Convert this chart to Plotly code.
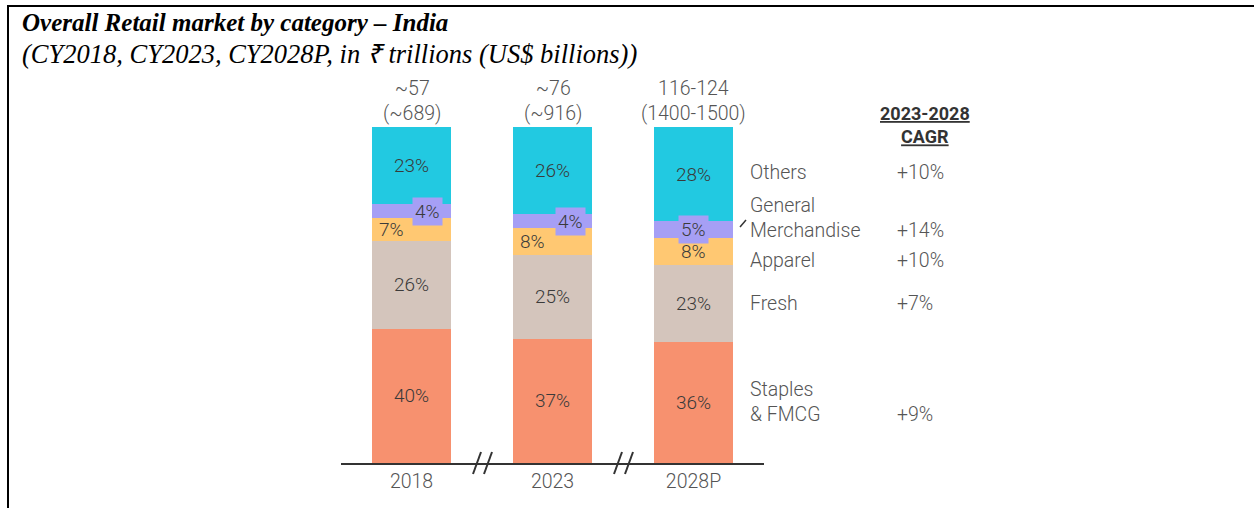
import plotly.graph_objects as go

# ---------------- data ----------------
years = ["2018", "2023", "2028P"]
totals_inr = ["~57", "~76", "116-124"]
totals_usd = ["(~689)", "(~916)", "(1400-1500)"]

staples = [40, 37, 36]
fresh = [26, 25, 23]
apparel = [7, 8, 8]
general_merch = [4, 4, 5]
others = [23, 26, 28]

category_names = ["Others", "General<br>Merchandise", "Apparel", "Fresh", "Staples<br>& FMCG"]
cagr = ["+10%", "+14%", "+10%", "+7%", "+9%"]

# ---------------- styles ----------------
C_STAPLES = "#F7916F"
C_FRESH = "#D4C5BC"
C_APPAREL = "#FFC872"
C_GM = "#A69FF5"
C_OTHERS = "#22C9E1"
TXT = "#3a3a3a"
LBL = "#555555"
FONT = "Roboto"
BAR_FS = 19
SIDE_FS = 19.5

W, H = 1254, 508
ML, MR, MT, MB = 341, 490, 127, 45
PW, PH = W - ML - MR, H - MT - MB


def px(x):
    return (x - ML) / PW


def py(y):
    return (H - MB - y) / PH


xs = list(range(len(years)))
fig = go.Figure()


def pct(vals):
    return [f"{v}%" for v in vals]


for name, vals, col, show in [
    ("Staples & FMCG", staples, C_STAPLES, True),
    ("Fresh", fresh, C_FRESH, True),
    ("Apparel", apparel, C_APPAREL, False),
    ("General Merchandise", general_merch, C_GM, False),
    ("Others", others, C_OTHERS, True),
]:
    fig.add_trace(go.Bar(
        x=xs, y=vals, name=name, marker=dict(color=col, line=dict(width=0)),
        width=0.56,
        text=pct(vals) if show else None,
        textposition="inside" if show else "none",
        insidetextanchor="middle",
        textangle=0,
        constraintext="none",
        textfont=dict(family=FONT, size=BAR_FS, color=TXT, weight=300),
        hoverinfo="skip",
    ))

annotations = []

# Apparel & GM labels (offset)
app_shift = [-20, -20, 0]
gm_shift = [16, 18, 0]
for i in xs:
    base_app = staples[i] + fresh[i]
    annotations.append(dict(
        x=i, y=base_app + apparel[i] / 2, xref="x", yref="y", text=f"{apparel[i]}%",
        showarrow=False, xshift=app_shift[i],
        font=dict(family=FONT, size=BAR_FS, color=TXT, weight=300)))
    base_gm = base_app + apparel[i]
    annotations.append(dict(
        x=i, y=base_gm + general_merch[i] / 2, xref="x", yref="y", text=f"{general_merch[i]}%",
        showarrow=False, xshift=gm_shift[i], bgcolor=C_GM, borderpad=2,
        font=dict(family=FONT, size=BAR_FS, color=TXT, weight=300)))
    total = base_gm + general_merch[i] + others[i]
    annotations.append(dict(
        x=i, y=total, xref="x", yref="y", yanchor="bottom",
        text=f"{totals_inr[i]}<br>{totals_usd[i]}",
        showarrow=False, yshift=0,
        font=dict(family=FONT, size=SIDE_FS, color=LBL, weight=300)))

# right side labels
label_y = [172, 218, 260, 303, 402]
cagr_y = [172, 230, 260, 303, 414]
for name, ly in zip(category_names, label_y):
    annotations.append(dict(
        x=px(748), y=py(ly), xref="paper", yref="paper", xanchor="left", yanchor="middle",
        align="left", text=name, showarrow=False,
        font=dict(family=FONT, size=SIDE_FS, color=LBL, weight=300)))
for val, cy in zip(cagr, cagr_y):
    annotations.append(dict(
        x=px(895), y=py(cy), xref="paper", yref="paper", xanchor="left", yanchor="middle",
        text=val, showarrow=False,
        font=dict(family=FONT, size=SIDE_FS, color=LBL, weight=300)))
annotations.append(dict(
    x=px(925), y=py(125), xref="paper", yref="paper", xanchor="center", yanchor="middle",
    text="<b><u>2023-2028</u></b><br><b><u>CAGR</u></b>", showarrow=False,
    font=dict(family=FONT, size=18, color="#333333")))

# title
annotations.append(dict(
    x=px(20), y=py(22), xref="paper", yref="paper", xanchor="left", yanchor="middle",
    text="Overall Retail market by category – India", showarrow=False,
    font=dict(family="Liberation Serif", size=25, color="black", weight="bold", style="italic")))
annotations.append(dict(
    x=px(20), y=py(54), xref="paper", yref="paper", xanchor="left", yanchor="middle",
    text="(CY2018, CY2023, CY2028P, in ₹ trillions (US$ billions))", showarrow=False,
    font=dict(family="Liberation Serif", size=26.5, color="black", style="italic")))

shapes = []
# axis break marks (x from data, y relative to the axis line at paper 0)
for bx in [0.5, 1.5]:
    for (x0, y0, x1, y1) in [(-9, -11, -1, 11), (2, -11, 10, 11)]:
        shapes.append(dict(type="line", xref="x", yref="paper", xsizemode="pixel", ysizemode="pixel",
                           xanchor=bx, yanchor=0, x0=x0, y0=y0, x1=x1, y1=y1,
                           line=dict(color="#333333", width=2)))
# GM leader tick
shapes.append(dict(type="line", xref="paper", yref="paper", x0=px(740), y0=py(227), x1=px(746), y1=py(220),
                   line=dict(color="#333333", width=1.5)))
# frame
shapes.append(dict(type="line", xref="paper", yref="paper", x0=px(7), y0=py(6), x1=px(1254), y1=py(6),
                   line=dict(color="black", width=2)))
shapes.append(dict(type="line", xref="paper", yref="paper", x0=px(8), y0=py(5), x1=px(8), y1=py(508),
                   line=dict(color="black", width=2)))

fig.update_layout(
    width=W, height=H,
    margin=dict(l=ML, r=MR, t=MT, b=MB, autoexpand=False),
    barmode="stack", showlegend=False,
    plot_bgcolor="white", paper_bgcolor="white",
    annotations=annotations, shapes=shapes,
    xaxis=dict(range=[-0.5, 2.5], tickvals=xs, ticktext=years, showline=True, linecolor="#333333",
               linewidth=2, showgrid=False, zeroline=False, ticks="",
               tickfont=dict(family=FONT, size=SIDE_FS, color=LBL, weight=300), fixedrange=True),
    yaxis=dict(range=[0, 100], visible=False, fixedrange=True),
)

fig.write_html("out.html", config={"displayModeBar": False},
               post_script="document.body.style.margin='0';document.body.style.overflow='hidden';")
